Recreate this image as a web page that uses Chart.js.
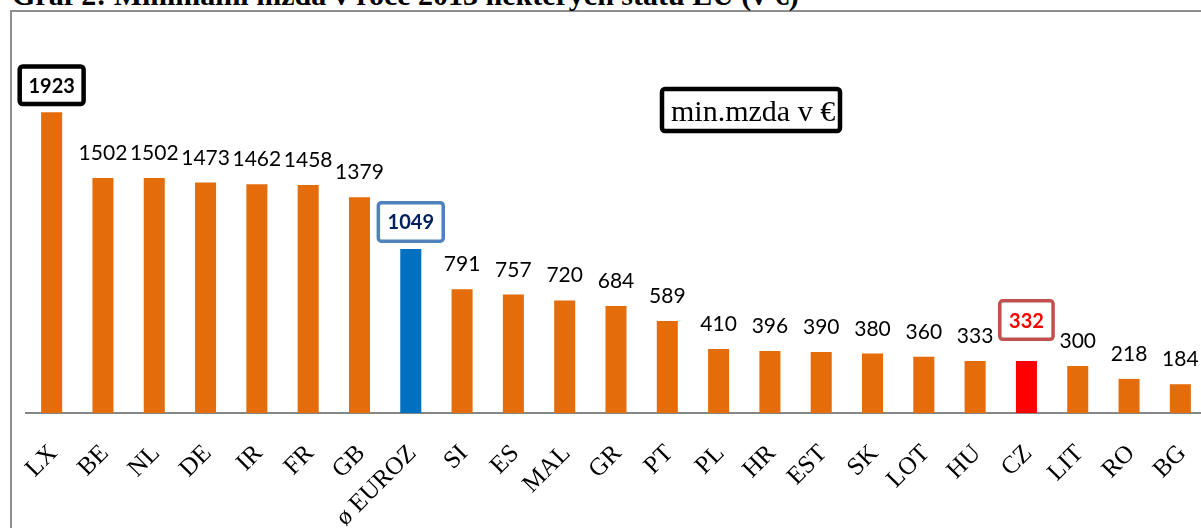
<!DOCTYPE html>
<html lang="cs">
<head>
<meta charset="utf-8">
<title>Minimální mzda 2013</title>
<script src="https://cdn.jsdelivr.net/npm/chart.js@4"></script>
<style>
    html, body { margin: 0; padding: 0; background: #fff; }
    #stranka { position: relative; width: 1201px; height: 528px; overflow: hidden; }
    #ramec {
        position: absolute; left: 10px; top: 10px; right: -10px; bottom: -10px;
        border-left: 2px solid #8f8f8f; border-top: 2px solid #8f8f8f;
    }
    #nadpis {
        position: absolute; left: 12px; top: -20px; white-space: nowrap;
        font: bold 30px/30px "Liberation Serif", "Times New Roman", serif; color: #000;
    }
    #graf { position: absolute; left: 0; top: 0; }
</style>
</head>
<body>
<div id="stranka">
    <div id="ramec"></div>
    <div id="nadpis">Graf 2: Minimální mzda v roce 2013 některých států EU (v €)</div>
    <canvas id="graf" width="1206" height="528"></canvas>
</div>
<script>
const staty = ["LX", "BE", "NL", "DE", "IR", "FR", "GB", "ø EUROZ", "SI", "ES", "MAL", "GR",
    "PT", "PL", "HR", "EST", "SK", "LOT", "HU", "CZ", "LIT", "RO", "BG"];
const mzdy = [1923, 1502, 1502, 1473, 1462, 1458, 1379, 1049, 791, 757, 720, 684,
    589, 410, 396, 390, 380, 360, 333, 332, 300, 218, 184];
const osaMax = 2500;

// zvýrazněné sloupce: barva sloupce, popisek v rámečku
const zvyraznene = {
    "LX": { ramecek: "#000000", text: "#000000", tloustka: 4.5, mezera: 6 },
    "ø EUROZ": { sloupec: "#0070C0", ramecek: "#4F81BD", text: "#002060", tloustka: 3.5, mezera: 6 },
    "CZ": { sloupec: "#FF0000", ramecek: "#C0504D", text: "#FF0000", tloustka: 3.5, mezera: 20 }
};
const oranzova = "#E46C0A";

const barvySloupcu = staty.map(s => (zvyraznene[s] && zvyraznene[s].sloupec) || oranzova);

const popiskyPlugin = {
    id: "popisky",
    afterDatasetsDraw(chart) {
        const ctx = chart.ctx;
        const meta = chart.getDatasetMeta(0);
        meta.data.forEach((bar, i) => {
            const text = String(mzdy[i]);
            const z = zvyraznene[staty[i]];
            ctx.save();
            if (z) {
                ctx.font = "bold 20px Lato";
                const w = ctx.measureText(text).width + 22;
                const h = 42;
                const spodek = bar.y - z.mezera;
                const lw = z.tloustka;
                ctx.beginPath();
                ctx.roundRect(bar.x - w / 2 + lw / 2, spodek - h + lw / 2, w - lw, h - lw, 3);
                ctx.fillStyle = "#ffffff";
                ctx.fill();
                ctx.lineWidth = lw;
                ctx.strokeStyle = z.ramecek;
                ctx.stroke();
                ctx.fillStyle = z.text;
                ctx.textAlign = "center";
                ctx.textBaseline = "middle";
                ctx.fillText(text, bar.x, spodek - h / 2 + 1);
            } else {
                ctx.font = "21px Lato";
                ctx.fillStyle = "#000000";
                ctx.textAlign = "center";
                ctx.textBaseline = "alphabetic";
                ctx.fillText(text, bar.x, bar.y - 18);
            }
            ctx.restore();
        });
    }
};

// textový rámeček "min.mzda v €"
const legendaPlugin = {
    id: "legenda",
    afterDraw(chart) {
        const ctx = chart.ctx;
        ctx.save();
        ctx.font = '30px "Liberation Serif"';
        ctx.fillStyle = "#000";
        ctx.textBaseline = "alphabetic";
        ctx.fillText("min.mzda v €", 671, 121);
        ctx.beginPath();
        ctx.roundRect(662, 89, 178, 42, 3);
        ctx.lineWidth = 4.5;
        ctx.strokeStyle = "#000";
        ctx.stroke();
        ctx.restore();
    }
};

new Chart(document.getElementById("graf"), {
    type: "bar",
    data: {
        labels: staty,
        datasets: [{
            label: "min.mzda v €",
            data: mzdy,
            backgroundColor: barvySloupcu,
            barPercentage: 0.82,
            categoryPercentage: 0.5
        }]
    },
    options: {
        responsive: false,
        animation: false,
        devicePixelRatio: 1,
        layout: { padding: { left: 26, top: 22, right: 0, bottom: 0 } },
        plugins: { legend: { display: false }, tooltip: { enabled: false } },
        scales: {
            x: {
                grid: { display: false },
                border: { color: "#878787", width: 2 },
                ticks: {
                    color: "#000",
                    font: { family: "Liberation Serif", size: 25 },
                    minRotation: 45,
                    maxRotation: 45,
                    autoSkip: false,
                    padding: 18,
                    labelOffset: 2
                },
                afterFit(scale) {
                    scale.height = 115;
                    scale.paddingLeft = 0;
                    scale.paddingRight = 0;
                }
            },
            y: { display: false, min: 0, max: osaMax }
        }
    },
    plugins: [popiskyPlugin, legendaPlugin]
});
</script>
</body>
</html>
